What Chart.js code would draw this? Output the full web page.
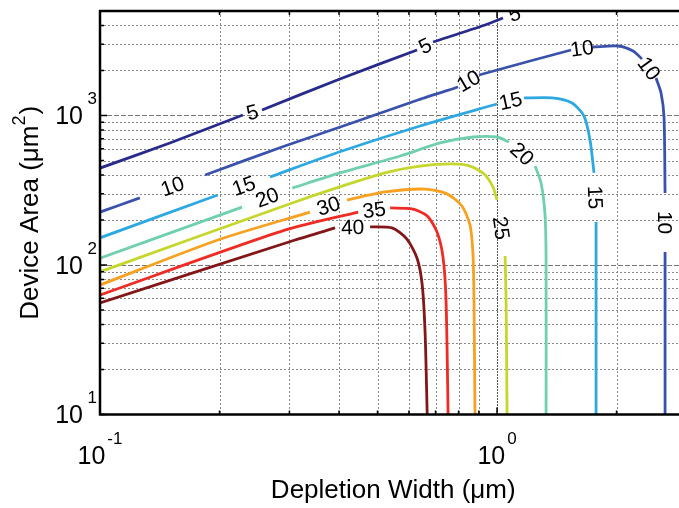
<!DOCTYPE html>
<html>
<head>
<meta charset="utf-8">
<title>Device Area vs Depletion Width</title>
<script src="https://cdn.jsdelivr.net/npm/chart.js@4.4.0/dist/chart.umd.min.js"></script>
<style>
  html, body { margin: 0; padding: 0; background: #ffffff; }
  canvas { display: block; }
</style>
</head>
<body>
<canvas id="chart" width="679" height="508"></canvas>
<script>
// Contour levels and their colours (jet colour map).
const LEVELS = [5, 10, 15, 20, 25, 30, 35, 40];
const LEVEL_COLORS = ['#282a8c', '#3b52ad', '#2da8e0', '#6fcfae', '#c5d62c', '#f6a11f', '#ee2b25', '#821618'];

// Each contour is a list of runs of [depletion width (um), device area (um^2)];
// the break between two runs is where the level label sits.
const CONTOUR_5 = [
  [[0.100, 445], [0.150, 655], [0.229, 1008]],
  [[0.256, 1089], [0.402, 1755], [0.629, 2743]],
  [[0.690, 3101], [0.933, 4031], [1.035, 4489]],
  [[1.183, 5078]]
];
const CONTOUR_10 = [
  [[0.100, 226], [0.126, 281]],
  [[0.184, 400], [0.292, 625], [0.431, 891], [0.632, 1270], [0.798, 1551]],
  [[0.901, 1866], [1.211, 2315], [1.536, 2743]],
  [[1.745, 2872], [2.018, 2917], [2.201, 2701], [2.318, 2387]],
  [[2.515, 1781], [2.589, 1414], [2.634, 977], [2.650, 303]],
  [[2.650, 122], [2.650, 10]]
];
const CONTOUR_15 = [
  [[0.100, 152], [0.198, 294]],
  [[0.268, 388], [0.400, 570], [0.640, 851], [1.000, 1194]],
  [[1.170, 1310], [1.376, 1310], [1.545, 1212], [1.656, 992], [1.715, 686], [1.755, 413]],
  [[1.776, 194], [1.776, 10]]
];
const CONTOUR_20 = [
  [[0.100, 111], [0.228, 244]],
  [[0.305, 327], [0.402, 413], [0.570, 536], [0.719, 655], [0.870, 718], [1.000, 718], [1.072, 665]],
  [[1.247, 459], [1.291, 354], [1.321, 216], [1.329, 108], [1.329, 10]]
];
const CONTOUR_25 = [
  [[0.100, 90], [0.310, 264], [0.522, 413], [0.640, 459], [0.770, 474], [0.855, 459], [0.928, 406], [0.977, 332], [1.000, 272]],
  [[1.048, 115], [1.054, 58], [1.060, 10]]
];
const CONTOUR_30 = [
  [[0.100, 73.5], [0.198, 147], [0.338, 226]],
  [[0.419, 272], [0.522, 308], [0.659, 322], [0.748, 299], [0.816, 248], [0.855, 185], [0.870, 117], [0.875, 58], [0.880, 10]]
];
const CONTOUR_35 = [
  [[0.100, 63], [0.292, 171], [0.447, 226]],
  [[0.538, 241], [0.611, 237], [0.667, 213], [0.706, 166], [0.731, 113], [0.744, 58], [0.753, 10]]
];
const CONTOUR_40 = [
  [[0.100, 55.7], [0.310, 147], [0.391, 177]],
  [[0.479, 180], [0.544, 177], [0.593, 149], [0.629, 111], [0.648, 73.5], [0.659, 35], [0.667, 10]]
];
const CONTOURS = [CONTOUR_5, CONTOUR_10, CONTOUR_15, CONTOUR_20, CONTOUR_25, CONTOUR_30, CONTOUR_35, CONTOUR_40];

// Axis ranges, grid positions and decade tick labels.
const X_MIN = 0.1, X_MAX = 2.873, X_AXIS_END = 3;
const Y_MIN = 10, Y_MAX = 5000;
const X_MAJOR = [0.1, 1];
const X_MINOR = [0.2, 0.3, 0.4, 0.5, 0.6, 0.7, 0.8, 0.9, 2];
const Y_MAJOR = [10, 100, 1000];
const Y_MINOR = [20, 30, 40, 50, 60, 70, 80, 90, 200, 300, 400, 500, 600, 700, 800, 900, 2000, 3000, 4000];
const X_TICK_EXPONENTS = [-1, 0];
const Y_TICK_EXPONENTS = [1, 2, 3];
const X_TITLE = 'Depletion Width (\u03bcm)';
const Y_TITLE = 'Device Area (\u03bcm';
const Y_TITLE_POWER = '2';

const FONT = '"Liberation Sans", Arial, Helvetica, sans-serif';

// Flatten the runs into one dataset per level, with null breaks between runs.
function toSeries(runs) {
  const out = [];
  runs.forEach((run, i) => {
    if (i > 0) out.push({ x: run[0][0], y: null });
    run.forEach(p => out.push({ x: p[0], y: p[1] }));
  });
  return out;
}

const gridPlugin = {
  id: 'logGrid',
  beforeDatasetsDraw(chart) {
    const { ctx, chartArea: a, scales: { x, y } } = chart;
    ctx.save();
    ctx.lineWidth = 1;
    const vline = (v, dash, color) => {
      const px = Math.round(x.getPixelForValue(v)) + 0.5;
      ctx.setLineDash(dash); ctx.strokeStyle = color;
      ctx.beginPath(); ctx.moveTo(px, a.top); ctx.lineTo(px, a.bottom); ctx.stroke();
    };
    const hline = (v, dash, color) => {
      const py = Math.round(y.getPixelForValue(v)) + 0.5;
      ctx.setLineDash(dash); ctx.strokeStyle = color;
      ctx.beginPath(); ctx.moveTo(a.left, py); ctx.lineTo(a.right, py); ctx.stroke();
    };
    Y_MINOR.forEach(v => hline(v, [2, 2], '#8a8a8a'));
    Y_MAJOR.filter(v => v > Y_MIN).forEach(v => hline(v, [5, 2], '#777777'));
    X_MINOR.forEach(v => vline(v, [2, 2], '#8a8a8a'));
    X_MAJOR.filter(v => v > X_MIN).forEach(v => vline(v, [2, 1], '#555555'));
    ctx.restore();
  }
};

const framePlugin = {
  id: 'axesFrame',
  afterDatasetsDraw(chart) {
    const { ctx, chartArea: a, scales: { x, y } } = chart;
    ctx.save();
    ctx.strokeStyle = '#000';
    ctx.lineWidth = 1.5;
    ctx.beginPath();
    const xt = (v, len) => {
      const px = x.getPixelForValue(v);
      ctx.moveTo(px, a.bottom); ctx.lineTo(px, a.bottom - len);
      ctx.moveTo(px, a.top); ctx.lineTo(px, a.top + len);
    };
    const yt = (v, len) => {
      const py = y.getPixelForValue(v);
      ctx.moveTo(a.left, py); ctx.lineTo(a.left + len, py);
    };
    X_MINOR.forEach(v => xt(v, 4));
    X_MAJOR.forEach(v => xt(v, 7));
    Y_MINOR.forEach(v => yt(v, 4));
    Y_MAJOR.forEach(v => yt(v, 7));
    ctx.stroke();
    ctx.lineWidth = 2.5;
    ctx.beginPath();
    ctx.moveTo(a.right + 2, a.top);
    ctx.lineTo(a.left, a.top);
    ctx.lineTo(a.left, a.bottom);
    ctx.lineTo(a.right + 2, a.bottom);
    ctx.stroke();
    ctx.restore();
  }
};

const labelPlugin = {
  id: 'contourLabels',
  afterDatasetsDraw(chart) {
    const { ctx, chartArea: a, scales: { x, y } } = chart;
    ctx.save();
    ctx.beginPath();
    ctx.rect(a.left, a.top, a.right - a.left, a.bottom - a.top);
    ctx.clip();
    ctx.font = '21px ' + FONT;
    ctx.fillStyle = '#000';
    ctx.textAlign = 'center';
    ctx.textBaseline = 'middle';
    CONTOURS.forEach((runs, k) => {
      for (let i = 0; i + 1 < runs.length; i++) {
        const p = runs[i][runs[i].length - 1];
        const q = runs[i + 1][0];
        const x1 = x.getPixelForValue(p[0]), y1 = y.getPixelForValue(p[1]);
        const x2 = x.getPixelForValue(q[0]), y2 = y.getPixelForValue(q[1]);
        let ang = Math.atan2(y2 - y1, x2 - x1);
        if (ang > Math.PI / 2) ang -= Math.PI;
        if (ang < -Math.PI / 2) ang += Math.PI;
        ctx.save();
        ctx.translate((x1 + x2) / 2, (y1 + y2) / 2);
        ctx.rotate(ang);
        ctx.fillText(String(LEVELS[k]), 0, 1);
        ctx.restore();
      }
    });
    ctx.restore();
  }
};

const textPlugin = {
  id: 'axisText',
  afterDraw(chart) {
    const { ctx, chartArea: a, scales: { x, y } } = chart;
    ctx.save();
    ctx.fillStyle = '#000';
    ctx.textBaseline = 'middle';
    const baseFont = '25px ' + FONT, powFont = '17px ' + FONT;

    // y decade labels: 10 with a raised exponent
    Y_TICK_EXPONENTS.forEach(e => {
      const py = y.getPixelForValue(Math.pow(10, e));
      ctx.textAlign = 'right';
      ctx.font = powFont; ctx.fillText(String(e), a.left - 3, py - 16);
      ctx.font = baseFont; ctx.fillText('10', a.left - 17, py + 2);
    });

    // x decade labels, centred under the tick
    X_TICK_EXPONENTS.forEach(e => {
      const px = x.getPixelForValue(Math.pow(10, e));
      ctx.font = baseFont; const w1 = ctx.measureText('10').width;
      ctx.font = powFont; const w2 = ctx.measureText(String(e)).width;
      const start = px - (w1 + 2 + w2) / 2;
      ctx.textAlign = 'left';
      ctx.font = baseFont; ctx.fillText('10', start, a.bottom + 43);
      ctx.font = powFont; ctx.fillText(String(e), start + w1 + 2, a.bottom + 24.5);
    });

    // axis titles
    ctx.font = '26px ' + FONT;
    ctx.textAlign = 'center';
    const xc = (a.left + x.getPixelForValue(X_AXIS_END)) / 2;
    ctx.fillText(X_TITLE, xc, a.bottom + 76);

    ctx.translate(31, (a.top + a.bottom) / 2);
    ctx.rotate(-Math.PI / 2);
    ctx.textAlign = 'left';
    ctx.font = '26px ' + FONT;
    const w1 = ctx.measureText(Y_TITLE).width;
    const w3 = ctx.measureText(')').width;
    ctx.font = '18px ' + FONT;
    const w2 = ctx.measureText(Y_TITLE_POWER).width;
    let cx = -(w1 + w2 + w3 + 1) / 2;
    ctx.font = '26px ' + FONT; ctx.fillText(Y_TITLE, cx, 0);
    cx += w1;
    ctx.font = '18px ' + FONT; ctx.fillText(Y_TITLE_POWER, cx, -11);
    cx += w2 + 1;
    ctx.font = '26px ' + FONT; ctx.fillText(')', cx, 0);
    ctx.restore();
  }
};

new Chart(document.getElementById('chart'), {
  type: 'line',
  data: {
    datasets: CONTOURS.map((runs, k) => ({
      label: String(LEVELS[k]),
      data: toSeries(runs),
      borderColor: LEVEL_COLORS[k],
      backgroundColor: LEVEL_COLORS[k],
      borderWidth: 2.8,
      pointRadius: 0,
      tension: 0.25,
      fill: false,
      spanGaps: false,
      borderJoinStyle: 'round'
    }))
  },
  options: {
    responsive: false,
    animation: false,
    layout: { padding: { top: 11, right: 0, bottom: 0, left: 0 } },
    plugins: { legend: { display: false }, tooltip: { enabled: false } },
    scales: {
      x: {
        type: 'logarithmic', min: X_MIN, max: X_MAX,
        ticks: { display: false }, grid: { display: false }, border: { display: false },
        afterFit(scale) { scale.height = 93.5; }
      },
      y: {
        type: 'logarithmic', min: Y_MIN, max: Y_MAX,
        ticks: { display: false }, grid: { display: false }, border: { display: false },
        afterFit(scale) { scale.width = 100; }
      }
    }
  },
  plugins: [gridPlugin, framePlugin, labelPlugin, textPlugin]
});
</script>
</body>
</html>
